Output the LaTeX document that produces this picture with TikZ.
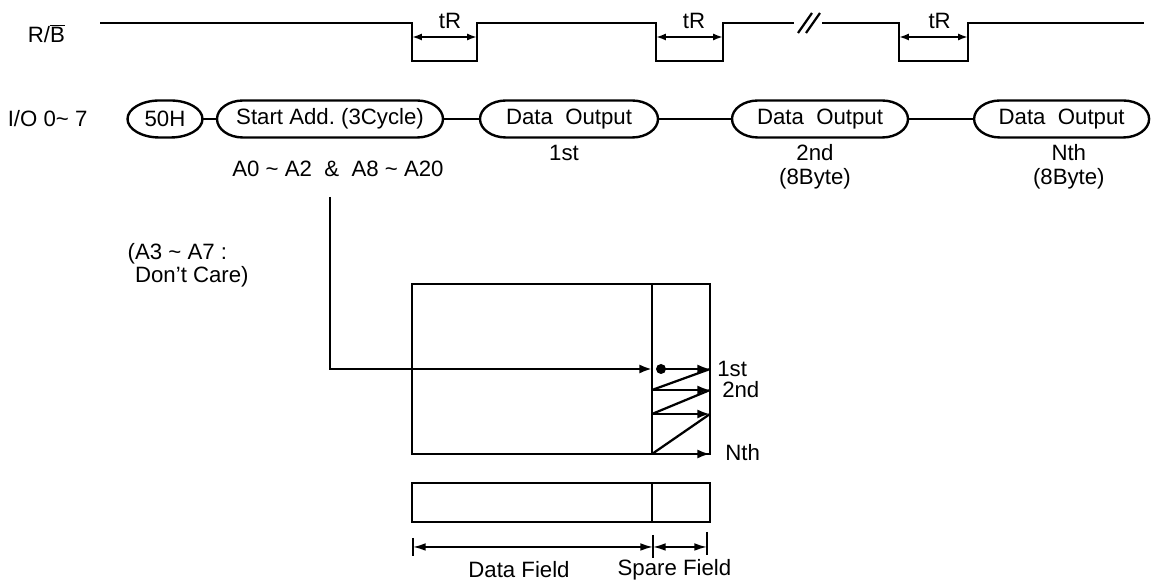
\documentclass[tikz,border=0pt]{standalone}
\usepackage{fontspec}
\setmainfont{Liberation Sans}
\usetikzlibrary{arrows.meta, calc}

% capsule outline round a named node
\newcommand{\drawpill}[2][0.65]{%
  \draw[pill] ($(#2.north west)+(#1,0)$) -- ($(#2.north east)+(-#1,0)$)
    arc[start angle=90, end angle=-90, x radius=#1, y radius=0.4625]
    -- ($(#2.south west)+(#1,0)$)
    arc[start angle=270, end angle=90, x radius=#1, y radius=0.4625] -- cycle;}

\begin{document}
\begin{tikzpicture}[
    every node/.style={font=\fontsize{15.8}{16}\selectfont, inner sep=1pt},
    pillnode/.style={minimum height=0.925cm, inner sep=0pt, outer sep=0pt},
    pill/.style={line width=1.7pt},
    wave/.style={line width=2.1pt},
    link/.style={line width=1.6pt},
    field/.style={draw, line width=2.1pt, inner sep=0pt, outer sep=0pt},
    arr/.style={-{Latex[length=9pt, width=6.5pt]}, line width=2pt},
    tarr/.style={{Latex[length=7pt, width=5pt]}-{Latex[length=7pt, width=5pt]}, line width=1.6pt},
    dimarr/.style={{Latex[length=9pt, width=5.5pt]}-{Latex[length=9pt, width=5.5pt]}, line width=1.2pt},
    tick/.style={line width=1.6pt},
]
\useasboundingbox (0,0) rectangle (28.775,14.675);

% =============================================
% R/B WAVEFORM
% =============================================
\node (rb) at (1.16, 13.825) {R/$\overline{\mbox{B}}$};

\draw[wave] (2.5,14.1) -- (10.3,14.1) -- (10.3,13.15) -- (11.925,13.15) -- (11.925,14.1)
    -- (16.4,14.1) -- (16.4,13.15) -- (18.075,13.15) -- (18.075,14.1) -- (19.85,14.1);
\draw[wave] (20.55,14.1) -- (22.475,14.1) -- (22.475,13.15) -- (24.2,13.15) -- (24.2,14.1)
    -- (28.6,14.1);

% break mark
\draw[link] (19.95,13.85) -- (20.3,14.35);
\draw[link] (20.15,13.85) -- (20.5,14.35);

\draw[tarr] (10.3,13.75) -- (11.925,13.75);
\draw[tarr] (16.4,13.75) -- (18.075,13.75);
\draw[tarr] (22.475,13.75) -- (24.2,13.75);
\node (tr1) at (11.25,14.15) {tR};
\node (tr2) at (17.35,14.15) {tR};
\node (tr3) at (23.49,14.15) {tR};

% =============================================
% I/O SEQUENCE
% =============================================
\node (io) at (1.19, 11.7) {I/O 0\textasciitilde{} 7};

\node[pillnode, minimum width=1.875cm] (cmd) at (4.125,11.7) {50H};
\node[pillnode, minimum width=5.65cm] (addr) at (8.25,11.7) {Start Add.\ (3Cycle)};
\node[pillnode, minimum width=4.45cm] (out1) at (14.225,11.7) {Data\ \ Output};
\node[pillnode, minimum width=4.4cm] (out2) at (20.5,11.7) {Data\ \ Output};
\node[pillnode, minimum width=4.375cm] (outn) at (26.54,11.7) {Data\ \ Output};

\drawpill[0.8]{cmd}
\drawpill{addr}
\drawpill{out1}
\drawpill{out2}
\drawpill{outn}

\draw[link] (cmd.east) -- (addr.west);
\draw[link] (addr.east) -- (out1.west);
\draw[link] (out1.east) -- (out2.west);
\draw[link] (out2.east) -- (outn.west);

\node (n1) at (14.1,10.85) {1st};
\node (n2) at (20.375,10.85) {2nd};
\node (b2) at (20.375,10.2) {(8Byte)};
\node (nn) at (26.72,10.85) {Nth};
\node (bn) at (26.72,10.2) {(8Byte)};

\node (bits) at (8.45,10.45) {A0 \textasciitilde{} A2\ \ \&\ \ A8 \textasciitilde{} A20};

\node[anchor=north west, align=left] (dc) at (3.15,8.625)
    {(A3 \textasciitilde{} A7 :\\\hphantom{(}Don't Care)};

% =============================================
% PAGE MAP
% =============================================
\node[field, minimum width=6cm, minimum height=4.25cm] (page) at (13.3,5.45) {};
\node[field, minimum width=1.45cm, minimum height=4.25cm] (spare) at (17.025,5.45) {};

\coordinate (tap) at (8.25,9.75);
\draw[arr] (tap) |- (page.east);

% column address pointer
\coordinate (dot) at (16.525,5.45);
\fill (dot) circle (0.125);
\draw[arr] (dot) -- (spare.east);

\coordinate (l2) at (16.3,4.925);
\coordinate (r2) at (17.75,4.925);
\coordinate (l3) at (16.3,4.325);
\coordinate (r3) at (17.75,4.325);
\draw[arr] (l2) -- (r2);
\draw[arr] (l3) -- (r3);
\draw[arr] (spare.south west) -- (spare.south east);

\draw[link] (l2) -- (spare.east);
\draw[link] (l3) -- (r2);
\draw[link] (spare.south west) -- (r3);

\node[anchor=west] (s1) at (17.89,5.45) {1st};
\node[anchor=west] (s2) at (18.015,4.925) {2nd};
\node[anchor=west] (sn) at (18.09,3.35) {Nth};

% =============================================
% FIELD BAR
% =============================================
\node[field, minimum width=6cm, minimum height=0.975cm] (dfield) at (13.3,2.1125) {};
\node[field, minimum width=1.45cm, minimum height=0.975cm] (sfield) at (17.025,2.1125) {};

\draw[tick] (10.325,1.225) -- (10.325,0.775);
\draw[tick] (16.325,1.3) -- (16.325,0.725);
\draw[tick] (17.675,1.375) -- (17.675,0.8);
\draw[dimarr] (10.325,1.0) -- (16.325,1.0);
\draw[dimarr] (16.325,1.0) -- (17.675,1.0);

\node (dlab) at (12.975,0.425) {Data Field};
\node (slab) at (16.86,0.425) {Spare Field};

\end{tikzpicture}
\end{document}
